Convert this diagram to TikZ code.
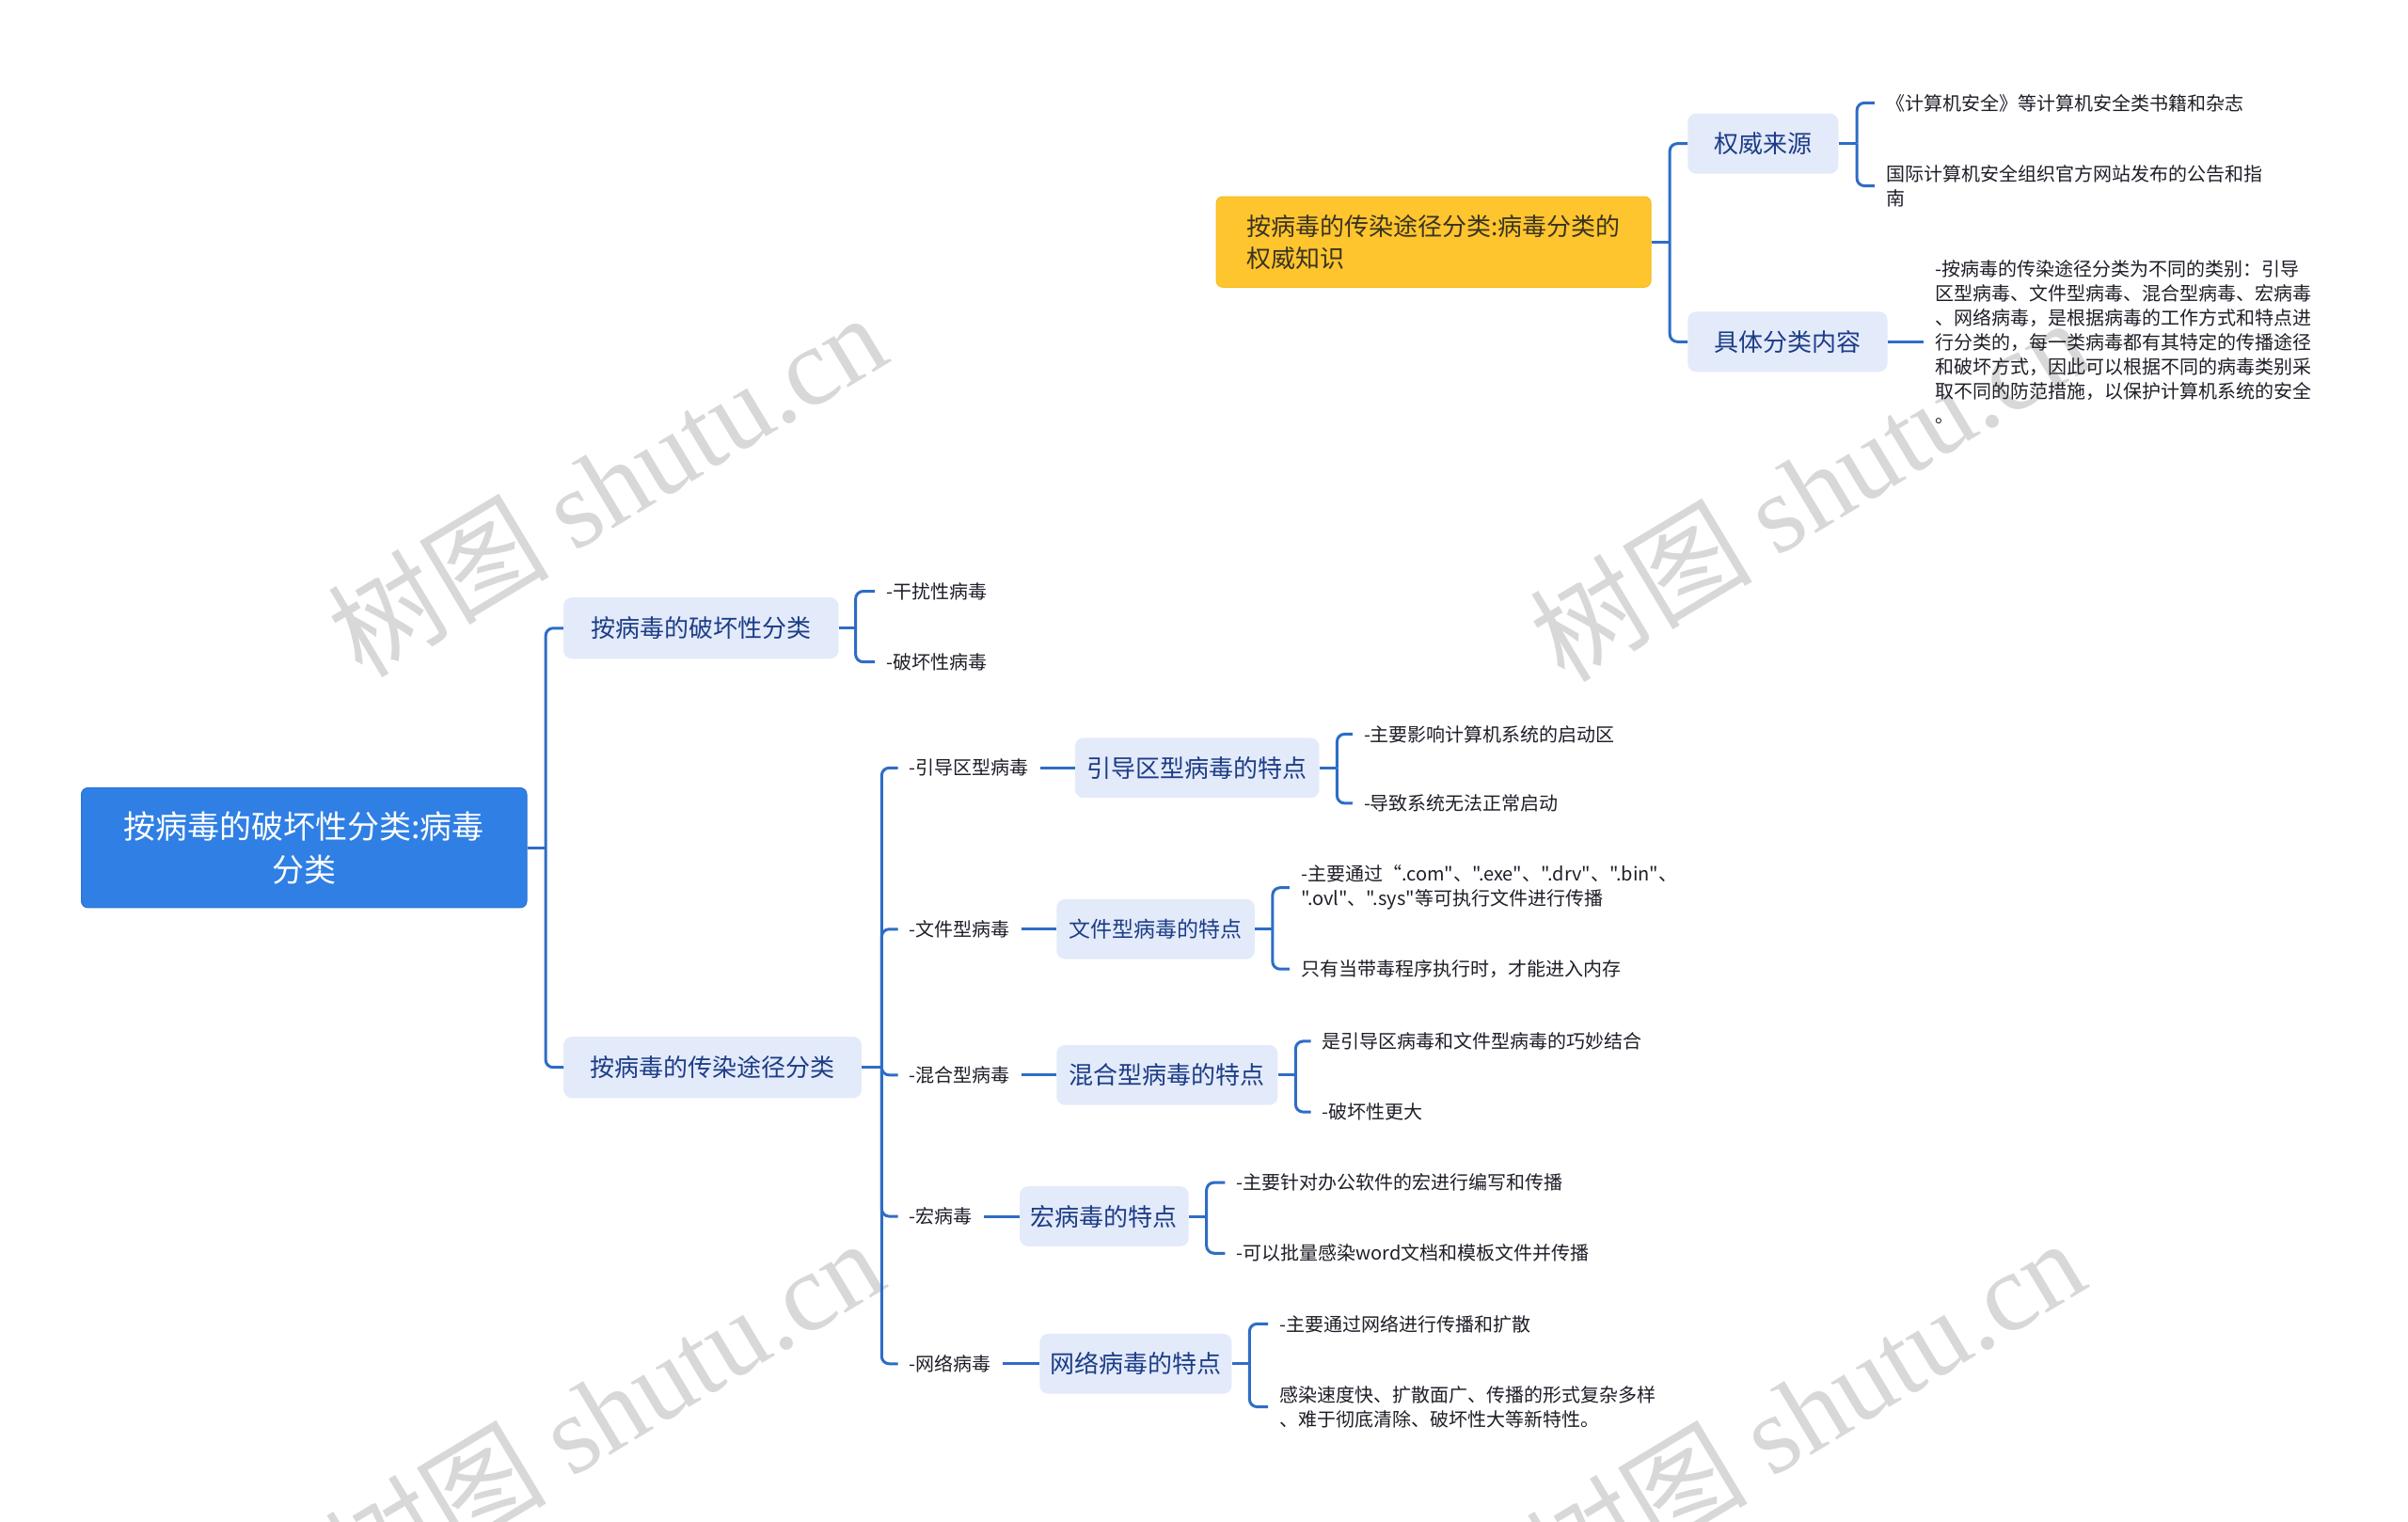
\documentclass[tikz,border=0pt]{standalone}
\usepackage{fontspec}
\setmainfont{Noto Sans CJK SC}
\newfontfamily\cjk{Noto Sans CJK SC}
\newfontfamily\wmlatin{Liberation Serif}
\usetikzlibrary{calc}
\definecolor{rootblue}{HTML}{2F7FE4}
\definecolor{rootborder}{HTML}{2A73D4}
\definecolor{lightbox}{HTML}{E3EAFA}
\definecolor{boxtext}{HTML}{1C3D86}
\definecolor{conncol}{HTML}{2E6DC5}
\definecolor{leaftext}{HTML}{1E1E28}
\definecolor{yellowbox}{HTML}{FEC52E}
\definecolor{yellowborder}{HTML}{F5BC22}
\definecolor{yellowtext}{HTML}{3A3322}
\definecolor{wmgray}{HTML}{D8D8D8}
\begin{document}
\begin{tikzpicture}[x=1.6327pt,y=-1.6327pt,
  conn/.style={draw=conncol, line width=3pt, rounded corners=8pt},
  rootbox/.style={fill=rootblue, draw=rootborder, line width=1pt, rounded corners=7pt, text=white,
    font=\cjk\fontsize{34}{46}\selectfont, align=center, inner sep=0pt},
  lvbox/.style={fill=lightbox, rounded corners=9pt, text=boxtext,
    font=\cjk\fontsize{26}{34}\selectfont, inner sep=0pt, align=center},
  ylwbox/.style={fill=yellowbox, draw=yellowborder, line width=1pt, rounded corners=7pt, text=yellowtext,
    font=\cjk\fontsize{26}{34}\selectfont, align=left, inner sep=0pt},
  leaf/.style={anchor=west, xshift=-12pt, inner xsep=12pt, inner ysep=2pt, text=leaftext,
    font=\cjk\fontsize{20}{26}\selectfont, align=left},
  wm/.style={text=wmgray, rotate=31, font=\cjk\fontsize{118}{120}\selectfont, inner sep=0pt}
]
\path[use as bounding box, fill=white] (0,0) rectangle (1568,991);
% watermarks
\foreach \wx/\wy [count=\i] in {395/315,1178/318,393/918,1175/918}
  \node[wm] (wm\i) at (\wx,\wy) {树图 {\wmlatin shutu.cn}};

% root and level 1
\node[rootbox, minimum width=473.5pt, minimum height=127.4pt] (root) at (198,552) {按病毒的破坏性分类:病毒\\分类};
\node[lvbox, minimum width=292.3pt, minimum height=65.3pt] (A) at (456.5,409) {按病毒的破坏性分类};
\node[lvbox, minimum width=316.7pt, minimum height=65.3pt] (B) at (464,695) {按病毒的传染途径分类};

% leaves of A
\node[leaf] (a1) at (577,385) {-干扰性病毒};
\node[leaf] (a2) at (577,431) {-破坏性病毒};

% labels under B
\node[leaf] (l1) at (592,500) {-引导区型病毒};
\node[leaf] (l2) at (592,605) {-文件型病毒};
\node[leaf] (l3) at (592,700) {-混合型病毒};
\node[leaf] (l4) at (592,792) {-宏病毒};
\node[leaf] (l5) at (592,888) {-网络病毒};

% feature boxes
\node[lvbox, minimum width=259.6pt, minimum height=63.7pt] (f1) at (779.5,500) {引导区型病毒的特点};
\node[lvbox, font=\cjk\fontsize{23}{30}\selectfont, minimum width=210.6pt, minimum height=63.7pt] (f2) at (752.5,605) {文件型病毒的特点};
\node[lvbox, minimum width=235.1pt, minimum height=63.7pt] (f3) at (760,700) {混合型病毒的特点};
\node[lvbox, minimum width=179.6pt, minimum height=63.7pt] (f4) at (719,792) {宏病毒的特点};
\node[lvbox, minimum width=204.1pt, minimum height=63.7pt] (f5) at (739.5,888) {网络病毒的特点};

% feature leaves
\node[leaf] (g11) at (888,478) {-主要影响计算机系统的启动区};
\node[leaf] (g12) at (888,523) {-导致系统无法正常启动};
\node[leaf] (g21) at (847,578) {-主要通过“.com"、".exe"、".drv"、".bin"、\\".ovl"、".sys"等可执行文件进行传播};
\node[leaf] (g22) at (847,631) {只有当带毒程序执行时，才能进入内存};
\node[leaf] (g31) at (861,678) {是引导区病毒和文件型病毒的巧妙结合};
\node[leaf] (g32) at (861,724) {-破坏性更大};
\node[leaf] (g41) at (805,770) {-主要针对办公软件的宏进行编写和传播};
\node[leaf] (g42) at (805,816) {-可以批量感染word文档和模板文件并传播};
\node[leaf] (g51) at (833,862) {-主要通过网络进行传播和扩散};
\node[leaf] (g52) at (833,916) {感染速度快、扩散面广、传播的形式复杂多样\\、难于彻底清除、破坏性大等新特性。};

% top section
\node[ylwbox, minimum width=462pt, minimum height=96.3pt] (Y) at (933.5,157.5) {按病毒的传染途径分类:病毒分类的\\权威知识};
\node[lvbox, minimum width=160pt, minimum height=64pt] (Q1) at (1148,93.5) {权威来源};
\node[lvbox, minimum width=212.3pt, minimum height=64pt] (Q2) at (1164,222.5) {具体分类内容};
\node[leaf] (q11) at (1228,67) {《计算机安全》等计算机安全类书籍和杂志};
\node[leaf] (q12) at (1228,121) {国际计算机安全组织官方网站发布的公告和指\\南};
\node[leaf] (q21) at (1260,222.5) {-按病毒的传染途径分类为不同的类别：引导\\区型病毒、文件型病毒、混合型病毒、宏病毒\\、网络病毒，是根据病毒的工作方式和特点进\\行分类的，每一类病毒都有其特定的传播途径\\和破坏方式，因此可以根据不同的病毒类别采\\取不同的防范措施，以保护计算机系统的安全\\。};

% connectors
\draw[conn] (root.east) -- ++(12,0) coordinate (jr);
\draw[conn] (jr) |- (A.west);
\draw[conn] (jr) |- (B.west);
\draw[conn] (A.east) -- ++(11,0) coordinate (ja);
\draw[conn] (ja) |- (a1.west);
\draw[conn] (ja) |- (a2.west);
\draw[conn] (B.east) -- ++(13,0) coordinate (jb);
\foreach \i in {1,...,5} {
  \draw[conn] (jb) |- (l\i.west);
  \draw[conn] (l\i.east) -- (f\i.west);
  \draw[conn] (f\i.east) -- ++(11.5,0) coordinate (j\i);
  \draw[conn] (j\i) |- (g\i1.west);
  \draw[conn] (j\i) |- (g\i2.west);
}
\draw[conn] (Y.east) -- ++(12,0) coordinate (jy);
\draw[conn] (jy) |- (Q1.west);
\draw[conn] (jy) |- (Q2.west);
\draw[conn] (Q1.east) -- ++(12,0) coordinate (jq);
\draw[conn] (jq) |- (q11.west);
\draw[conn] (jq) |- (q12.west);
\draw[conn] (Q2.east) -- (q21.west);
\end{tikzpicture}
\end{document}
